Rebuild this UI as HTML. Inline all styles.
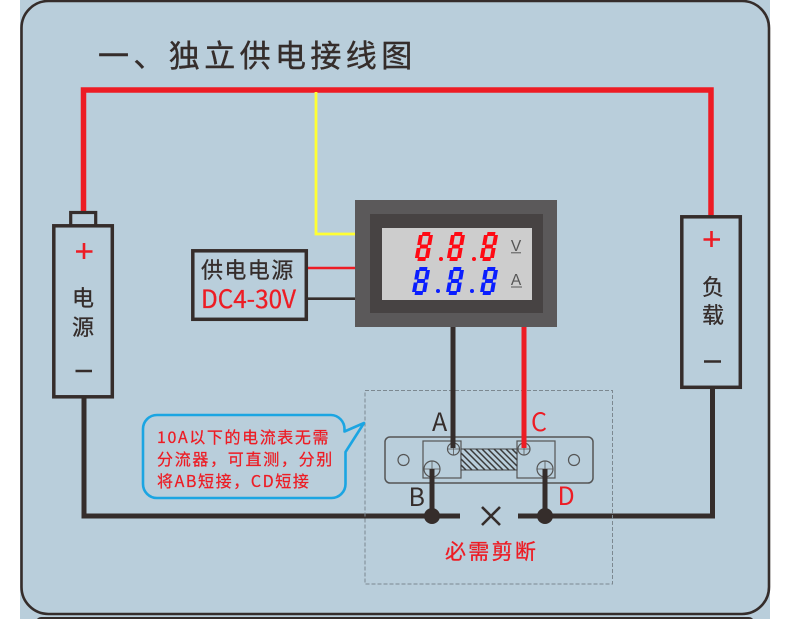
<!DOCTYPE html>
<html><head><meta charset="utf-8"><style>
html,body{margin:0;padding:0;background:#fff;width:790px;height:619px;overflow:hidden}
svg{display:block}
text{font-family:"Liberation Sans","Noto Sans CJK SC",sans-serif}
.n{font-family:"Noto Sans CJK SC","Liberation Sans",sans-serif}
</style></head><body>
<svg width="790" height="619" viewBox="0 0 790 619" xmlns="http://www.w3.org/2000/svg">
<rect x="20" y="0" width="750" height="619" fill="#b9cedb"/>
<rect x="21.500" y="1" width="747.500" height="613" rx="27" fill="#b9cedb" stroke="#352d2b" stroke-width="2.600"/>
<rect x="36" y="617" width="718" height="10" rx="5" fill="#352d2b"/>

<text x="98" y="67" font-size="31" letter-spacing="4.400" fill="#352d2b" stroke="#352d2b" stroke-width="0.400">一、独立供电接线图</text>

<!-- wires -->
<path d="M83.500 212V90H711V216" fill="none" stroke="#ed1c24" stroke-width="5.500"/>
<path d="M316 92V234H356" fill="none" stroke="#ffff33" stroke-width="2.800"/>
<path d="M308 268H356" stroke="#ed1c24" stroke-width="2.600"/>
<path d="M308 298.700H356" stroke="#352d2b" stroke-width="2.600"/>
<path d="M84 398V516H460" fill="none" stroke="#352d2b" stroke-width="5"/>
<path d="M518 516H712.500V388" fill="none" stroke="#352d2b" stroke-width="5"/>

<!-- battery -->
<rect x="70.700" y="212.500" width="25" height="14" fill="#b9cedb" stroke="#352d2b" stroke-width="3.200"/>
<rect x="53.800" y="225.800" width="58.500" height="171" fill="#b9cedb" stroke="#352d2b" stroke-width="3.500"/>
<path d="M76 251.500H92.500M84 243V259" stroke="#ed1c24" stroke-width="2.600" fill="none"/>
<text x="83" y="306" font-size="22" text-anchor="middle" fill="#352d2b" stroke="#352d2b" stroke-width="0.300">电</text>
<text x="83" y="335" font-size="22" text-anchor="middle" fill="#352d2b" stroke="#352d2b" stroke-width="0.300">源</text>
<path d="M75.500 371H92" stroke="#352d2b" stroke-width="2.600"/>

<!-- load -->
<rect x="681.800" y="216.800" width="58.500" height="170.500" fill="#b9cedb" stroke="#352d2b" stroke-width="3.500"/>
<path d="M703.500 239.500H720M711.500 231V247" stroke="#ed1c24" stroke-width="2.600" fill="none"/>
<text x="713" y="295" font-size="22" text-anchor="middle" fill="#352d2b" stroke="#352d2b" stroke-width="0.300">负</text>
<text x="713" y="323" font-size="22" text-anchor="middle" fill="#352d2b" stroke="#352d2b" stroke-width="0.300">载</text>
<path d="M704 361.500H721" stroke="#352d2b" stroke-width="2.600"/>

<!-- power box -->
<rect x="192.800" y="250.800" width="113.500" height="68.500" fill="#b9cedb" stroke="#352d2b" stroke-width="3.500"/>
<text x="201" y="278" font-size="22" letter-spacing="1.400" fill="#352d2b" stroke="#352d2b" stroke-width="0.300">供电电源</text>
<text class="n" x="201" y="308" font-size="25" textLength="95" lengthAdjust="spacingAndGlyphs" fill="#ed1c24" stroke="#ed1c24" stroke-width="0.300">DC4-30V</text>

<!-- meter -->
<rect x="355" y="200" width="202" height="127" fill="#5b595a"/>
<rect x="370" y="214" width="173" height="99" fill="#474343"/>
<rect x="382" y="228" width="150" height="72" fill="#cdcdcd"/>
<g fill="none" stroke="#ff0a14" stroke-width="4">
<path transform="translate(419.500 232) skewX(-10)" d="M3 2H11M3 14.500H11M3 27H11M2 3V13M2 16V26M12 3V13M12 16V26"/>
<path transform="translate(451.500 232) skewX(-10)" d="M3 2H11M3 14.500H11M3 27H11M2 3V13M2 16V26M12 3V13M12 16V26"/>
<path transform="translate(484.500 232) skewX(-10)" d="M3 2H11M3 14.500H11M3 27H11M2 3V13M2 16V26M12 3V13M12 16V26"/>
</g>
<circle cx="441" cy="259" r="2" fill="#ff0a14"/><circle cx="474" cy="259" r="2" fill="#ff0a14"/>
<g fill="none" stroke="#0a1eff" stroke-width="4">
<path transform="translate(416.500 267) skewX(-10)" d="M3 2H11M3 14H11M3 26H11M2 3V12.500M2 15.500V25M12 3V12.500M12 15.500V25"/>
<path transform="translate(450.500 267) skewX(-10)" d="M3 2H11M3 14H11M3 26H11M2 3V12.500M2 15.500V25M12 3V12.500M12 15.500V25"/>
<path transform="translate(484.500 267) skewX(-10)" d="M3 2H11M3 14H11M3 26H11M2 3V12.500M2 15.500V25M12 3V12.500M12 15.500V25"/>
</g>
<circle cx="438" cy="291" r="2" fill="#0a1eff"/><circle cx="472" cy="291" r="2" fill="#0a1eff"/>
<text x="516" y="251" font-size="15.500" text-anchor="middle" fill="#555">V</text>
<path d="M511 252.800H521" stroke="#555" stroke-width="1"/>
<text x="516" y="285" font-size="15.500" text-anchor="middle" fill="#555">A</text>
<path d="M511 287H522" stroke="#555" stroke-width="1"/>

<!-- dashed -->
<rect x="365" y="390.500" width="247.500" height="193.500" fill="none" stroke="#7c8890" stroke-width="1" stroke-dasharray="4 2"/>

<!-- shunt -->
<rect x="385" y="437" width="208" height="46" rx="5" fill="none" stroke="#555" stroke-width="1.500"/>
<rect x="423" y="441" width="38" height="37" fill="none" stroke="#555" stroke-width="1.200"/>
<rect x="517" y="441" width="38" height="37" fill="none" stroke="#555" stroke-width="1.200"/>
<rect x="461" y="449" width="56" height="21" fill="#b9cedb" stroke="#444" stroke-width="1"/>
<g stroke="#3a3a3a" stroke-width="1.500" fill="none">
<path d="M461 453L478 470M461 459L472 470M461 465L466 470M464 449L485 470M470 449L491 470M476 449L497 470M482 449L503 470M488 449L509 470M494 449L515 470M500 449L517 466M506 449L517 460M512 449L517 454"/>
</g>
<circle cx="403.500" cy="460" r="5.500" fill="none" stroke="#555" stroke-width="1.200"/>
<circle cx="574" cy="460" r="5.500" fill="none" stroke="#555" stroke-width="1.200"/>
<path d="M447.500 449H459.500M453.500 443V455M518 449H530M524 443V455M424 469H440M432 461V477M537 469H553M545 461V477" stroke="#555" stroke-width="0.800" fill="none"/>
<circle cx="453.500" cy="449" r="6" fill="none" stroke="#555" stroke-width="1.200"/>
<circle cx="524" cy="449" r="6" fill="none" stroke="#555" stroke-width="1.200"/>
<circle cx="432" cy="469" r="8" fill="none" stroke="#555" stroke-width="1.200"/>
<circle cx="545" cy="469" r="8" fill="none" stroke="#555" stroke-width="1.200"/>
<path d="M453 327V448M432 469V516M545 469V516" stroke="#352d2b" stroke-width="5" fill="none"/>
<path d="M524 327V448" stroke="#ed1c24" stroke-width="5" fill="none"/>
<circle cx="432" cy="516" r="8" fill="#352d2b"/>
<circle cx="545" cy="516" r="8" fill="#352d2b"/>
<path d="M482 507L500 525M500 507L482 525" stroke="#352d2b" stroke-width="2.600" fill="none"/>

<text class="n" x="432" y="431" font-size="25" fill="#352d2b">A</text>
<text class="n" x="531" y="431" font-size="25" fill="#ed1c24">C</text>
<text class="n" x="408.500" y="506" font-size="25" fill="#352d2b">B</text>
<text class="n" x="557.500" y="505" font-size="25" fill="#ed1c24">D</text>
<text x="445" y="559" font-size="21" letter-spacing="2.300" fill="#ed1c24" stroke="#ed1c24" stroke-width="0.300">必需剪断</text>

<!-- bubble -->
<path d="M157 415H331A14 14 0 0 1 344.500 429V431.500L364 423L345.500 452V484A14 14 0 0 1 331 498H157A14 14 0 0 1 143 484V429A14 14 0 0 1 157 415Z" fill="#b9cedb" stroke="#1ba5e2" stroke-width="2.600" stroke-linejoin="round"/>
<g font-size="16" fill="#ed1c24" stroke="#ed1c24" stroke-width="0.250">
<text class="n" x="157" y="443" letter-spacing="1.600">10A以下的电流表无需</text>
<text class="n" x="157" y="465" letter-spacing="1.700">分流器，可直测，分别</text>
<text class="n" x="157" y="487" letter-spacing="1.600">将AB短接，CD短接</text>
</g>
</svg>
</body></html>
